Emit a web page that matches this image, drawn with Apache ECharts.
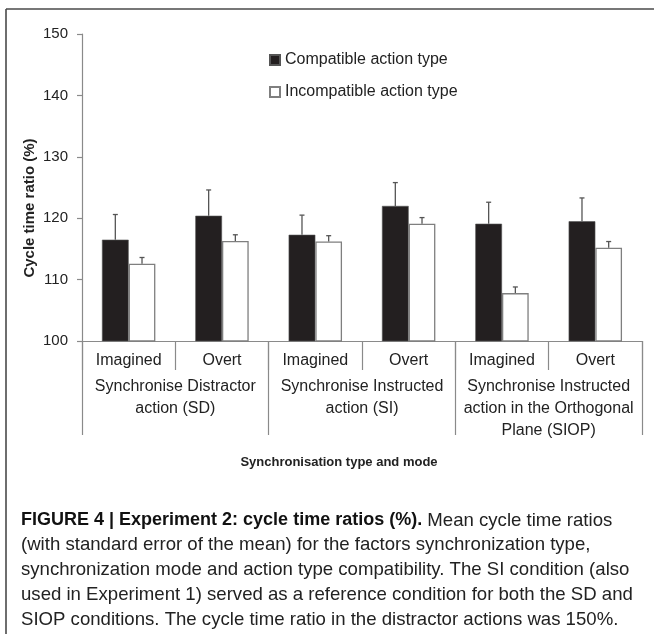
<!DOCTYPE html>
<html>
<head>
<meta charset="utf-8">
<script src="https://cdn.jsdelivr.net/npm/echarts@6/dist/echarts.min.js"></script>
<style>
    html, body { margin: 0; padding: 0; background: #fff; }
    #chart { width: 654px; height: 634px; }
</style>
</head>
<body>
<div id="chart"></div>
<script>
    // 数据
    const modes = ['Imagined', 'Overt', 'Imagined', 'Overt', 'Imagined', 'Overt'];
    const groups = [
        'Synchronise Distractor\naction (SD)',
        'Synchronise Instructed\naction (SI)',
        'Synchronise Instructed\naction in the Orthogonal\nPlane (SIOP)'
    ];
    const compatible = [116.5, 120.4, 117.3, 122.0, 119.1, 119.5];
    const compatibleErr = [4.1, 4.2, 3.2, 3.8, 3.5, 3.8];
    const incompatible = [112.6, 116.3, 116.2, 119.1, 107.8, 115.2];
    const incompatibleErr = [1.0, 1.0, 0.95, 1.0, 1.0, 1.0];

    const font = 'Liberation Sans, Arial, sans-serif';
    const grey = '#8a8a8a';
    const BAR = 0.286; // bar width as share of the category

    // error bar, upper side only, with a small cap
    function errorBars(side) {
        return function (params, api) {
            const band = api.size([1, 0])[0];
            const base = api.coord([api.value(0), api.value(1)]);
            const top = api.coord([api.value(0), api.value(1) + api.value(2)]);
            const x = base[0] + side * band * BAR / 2;
            const style = { stroke: '#555', lineWidth: 1.3 };
            return {
                type: 'group',
                children: [
                    { type: 'line', shape: { x1: x, y1: base[1], x2: x, y2: top[1] }, style: style },
                    { type: 'line', shape: { x1: x - 2.5, y1: top[1], x2: x + 2.5, y2: top[1] }, style: style }
                ]
            };
        };
    }

    const config = {
        animation: false,
        textStyle: { fontFamily: font },
        grid: { left: 82, right: 12, top: 34, bottom: 293 },
        legend: {
            orient: 'vertical',
            left: 264,
            top: 47,
            itemWidth: 10,
            itemHeight: 10,
            itemGap: 16,
            icon: 'rect',
            data: ['Compatible action type', 'Incompatible action type'],
            textStyle: { fontSize: 16, color: '#222', fontFamily: font }
        },
        xAxis: [{
            type: 'category',
            data: modes,
            position: 'bottom',
            axisLine: { show: true, lineStyle: { color: grey, width: 1.2 } },
            axisTick: { show: true, interval: 0, length: 29, lineStyle: { color: grey, width: 1.2 } },
            axisLabel: { interval: 0, margin: 12, fontSize: 16, color: '#222', fontFamily: font }
        }, {
            type: 'category',
            data: groups,
            position: 'bottom',
            axisLine: { show: false },
            axisTick: { show: true, interval: 0, length: 94, lineStyle: { color: grey, width: 1.2 } },
            axisLabel: { interval: 0, margin: 35, fontSize: 16, lineHeight: 22, color: '#222', fontFamily: font }
        }],
        yAxis: {
            type: 'value',
            min: 100,
            max: 150,
            interval: 10,
            splitLine: { show: false },
            axisLine: { show: true, lineStyle: { color: grey, width: 1.2 } },
            axisTick: { show: true, length: 5, lineStyle: { color: grey, width: 1.2 } },
            axisLabel: { margin: 14, fontSize: 15, color: '#222', fontFamily: font }
        },
        series: [{
            name: 'Compatible action type',
            type: 'bar',
            barWidth: (BAR * 100) + '%',
            barGap: '0%',
            data: compatible,
            itemStyle: { color: '#231f20', borderColor: '#555', borderWidth: 0.6 }
        }, {
            name: 'Incompatible action type',
            type: 'bar',
            barWidth: (BAR * 100) + '%',
            barGap: '0%',
            data: incompatible,
            itemStyle: { color: '#fff', borderColor: '#7f7f7f', borderWidth: 1.3 }
        }, {
            type: 'custom',
            renderItem: errorBars(-1),
            data: compatible.map((v, i) => [i, v, compatibleErr[i]]),
            z: 5
        }, {
            type: 'custom',
            renderItem: errorBars(1),
            data: incompatible.map((v, i) => [i, v, incompatibleErr[i]]),
            z: 5
        }],
        graphic: [
            // frame
            { type: 'line', shape: { x1: 6, y1: 9, x2: 654, y2: 9 }, style: { stroke: '#4a4a4a', lineWidth: 1.6 } },
            { type: 'line', shape: { x1: 6, y1: 9, x2: 6, y2: 634 }, style: { stroke: '#4a4a4a', lineWidth: 1.6 } },
            // axis titles
            {
                type: 'text', x: 30, y: 208, rotation: Math.PI / 2,
                style: {
                    text: 'Cycle time ratio (%)', fontFamily: font, fontWeight: 'bold', fontSize: 15,
                    fill: '#222', align: 'center', verticalAlign: 'middle'
                }
            },
            {
                type: 'text', x: 339, y: 462,
                style: {
                    text: 'Synchronisation type and mode', fontFamily: font, fontWeight: 'bold', fontSize: 13,
                    fill: '#222', align: 'center', verticalAlign: 'middle'
                }
            },
            // caption
            {
                type: 'text', left: 21, top: 508,
                style: {
                    text: '{b|FIGURE 4 | Experiment 2: cycle time ratios (%).} Mean cycle time ratios\n' +
                        '(with standard error of the mean) for the factors synchronization type,\n' +
                        'synchronization mode and action type compatibility. The SI condition (also\n' +
                        'used in Experiment 1) served as a reference condition for both the SD and\n' +
                        'SIOP conditions. The cycle time ratio in the distractor actions was 150%.',
                    fontFamily: font, fontSize: 18.6, lineHeight: 24.8, fill: '#222',
                    rich: {
                        b: { fontFamily: font, fontWeight: 'bold', fontSize: 18, lineHeight: 24.8, fill: '#111' }
                    }
                }
            }
        ]
    };

    echarts.init(document.getElementById('chart')).setOption(config);
</script>
</body>
</html>
